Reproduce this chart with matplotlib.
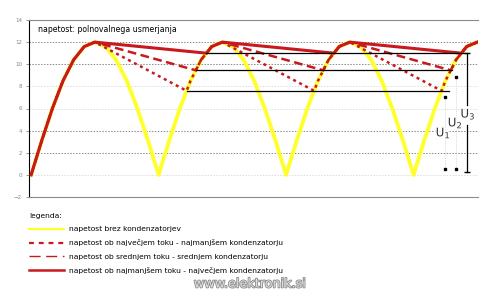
import matplotlib
matplotlib.use('Agg')
import matplotlib.pyplot as plt
import matplotlib.patheffects as pe
from matplotlib.lines import Line2D

# phase angle (deg), sampled every 15 deg, full-wave rectified voltage without capacitor
angle = [0, 15, 30, 45, 60, 75, 90, 105, 120, 135, 150, 165,
         180, 195, 210, 225, 240, 255, 270, 285, 300, 315, 330, 345,
         360, 375, 390, 405, 420, 435, 450, 465, 480, 495, 510, 525,
         540, 555, 570, 585, 600, 615, 630]
u_no_cap = [0, 3.1, 6, 8.5, 10.4, 11.6, 12, 11.6, 10.4, 8.5, 6, 3.1,
            0, 3.1, 6, 8.5, 10.4, 11.6, 12, 11.6, 10.4, 8.5, 6, 3.1,
            0, 3.1, 6, 8.5, 10.4, 11.6, 12, 11.6, 10.4, 8.5, 6, 3.1,
            0, 3.1, 6, 8.5, 10.4, 11.6, 12]

# biggest current - smallest capacitor (dotted)
x_small = [0, 15, 30, 45, 60, 75, 90, 219.6, 225, 240, 255, 270,
           399.6, 405, 420, 435, 450, 579.6, 585, 600, 615, 630]
u_small = [0, 3.1, 6, 8.5, 10.4, 11.6, 12, 7.6, 8.5, 10.4, 11.6, 12,
           7.6, 8.5, 10.4, 11.6, 12, 7.6, 8.5, 10.4, 11.6, 12]
# medium current - medium capacitor (dashed)
x_mid = [0, 15, 30, 45, 60, 75, 90, 232.6, 240, 255, 270,
         412.6, 420, 435, 450, 592.6, 600, 615, 630]
u_mid = [0, 3.1, 6, 8.5, 10.4, 11.6, 12, 9.45, 10.4, 11.6, 12,
         9.45, 10.4, 11.6, 12, 9.45, 10.4, 11.6, 12]
# smallest current - biggest capacitor (solid)
x_big = [0, 15, 30, 45, 60, 75, 90, 247.6, 255, 270,
         427.6, 435, 450, 607.6, 615, 630]
u_big = [0, 3.1, 6, 8.5, 10.4, 11.6, 12, 11.0, 11.6, 12,
         11.0, 11.6, 12, 11.0, 11.6, 12]

# ripple levels: U1, U2, U3
levels = [7.6, 9.45, 11.0]
level_start = [219.6, 232.6, 247.6]
level_end = [590, 594, 616]
dim_x = [585, 600, 616]
dim_names = ['U$_1$', 'U$_2$', 'U$_3$']

yticks = [-2, 0, 2, 4, 6, 8, 10, 12, 14]
grid_strong = [12, 10, 4, 2]
grid_faint = [8, 6, 0]

labels = ['napetost brez kondenzatorjev',
          'napetost ob največjem toku - najmanjšem kondenzatorju',
          'napetost ob srednjem toku - srednjem kondenzatorju',
          'napetost ob najmanjšem toku - največjem kondenzatorju']

red = '#c8191e'
yellow = '#ffff30'

fig = plt.figure(figsize=(4.99, 2.94), dpi=100)
ax = fig.add_axes([29 / 499, 97 / 294, 449 / 499, 177 / 294])
ax.set_xlim(-3, 631)
ax.set_ylim(-2, 14)

for g in grid_strong:
    ax.axhline(g, color='#8a8a8a', lw=0.7, ls=(0, (1.5, 1.5)), zorder=0)
for g in grid_faint:
    ax.axhline(g, color='#dddddd', lw=0.7, ls=(0, (1.5, 1.5)), zorder=0)

ax.plot(angle, u_no_cap, color=yellow, lw=2.8, zorder=2)
ax.plot(x_small, u_small, color=red, lw=1.8, ls=(0, (1.2, 1.5)), zorder=3)
ax.plot(x_mid, u_mid, color=red, lw=1.8, ls=(0, (3.5, 1.8)), zorder=3)
ax.plot(x_big, u_big, color=red, lw=2.2, zorder=4)

# level lines
for lv, x0, x1 in zip(levels, level_start, level_end):
    ax.plot([x0, x1], [lv, lv], color='black', lw=0.9, zorder=5)

# U1, U2 dotted dimension lines with dots
for i in range(2):
    ax.plot([dim_x[i], dim_x[i]], [levels[i] - 0.6, 0.5], color='#cccccc', lw=0.6,
            ls=(0, (1, 1.5)), zorder=5)
    ax.plot([dim_x[i], dim_x[i]], [levels[i] - 0.6, 0.5], ls='none', marker='s',
            ms=1.8, color='black', zorder=6)
# U3 solid dimension line
ax.plot([dim_x[2], dim_x[2]], [levels[2], 6.3], color='black', lw=0.9, zorder=5)
ax.plot([dim_x[2], dim_x[2]], [4.5, 0.3], color='black', lw=0.9, zorder=5)
ax.plot([dim_x[2], dim_x[2]], [levels[2], 0.3], ls='none', marker='_', ms=4,
        mew=1, color='black', zorder=6)

label_pos = [(582, 3.8), (599, 4.7), (617, 5.5)]
for name, (lx, ly) in zip(dim_names, label_pos):
    ax.text(lx, ly, name, fontsize=8.5, color='#333333', ha='center', va='center',
            zorder=7, path_effects=[pe.withStroke(linewidth=2, foreground='white')])

ax.text(10, 13.1, 'napetost: polnovalnega usmerjanja', fontsize=5.6,
        ha='left', va='center')

ax.set_yticks(yticks)
ax.set_xticks([])
ax.tick_params(axis='y', length=2, width=0.6, labelsize=4, labelcolor='#888888',
               color='#888888', pad=3)
ax.spines['right'].set_visible(False)
ax.spines['top'].set_color('#8a8a8a')
ax.spines['bottom'].set_color('#8a8a8a')
ax.spines['left'].set_color('black')
for s in ax.spines.values():
    s.set_linewidth(0.8)

handles = [Line2D([], [], color=yellow, lw=1.6),
           Line2D([], [], color=red, lw=1.6, ls=(0, (2.2, 2.2))),
           Line2D([], [], color=red, lw=1.0, ls=(0, (8, 4))),
           Line2D([], [], color=red, lw=1.8)]
leg = fig.legend(handles, labels, loc='upper left', bbox_to_anchor=(26 / 499, 1 - 210 / 294),
                 frameon=False, fontsize=5.4, title='legenda:', title_fontsize=5.4,
                 handlelength=4.7, handletextpad=0.6, labelspacing=0.95,
                 alignment='left', borderaxespad=0)

fig.text(250 / 499, 1 - 284 / 294, 'www.elektronik.si', fontsize=9.2, ha='center',
         va='center', color='#e0e0e0',
         path_effects=[pe.withStroke(linewidth=1.2, foreground='#8a8a8a')])

fig.savefig('out.png', dpi=100)
